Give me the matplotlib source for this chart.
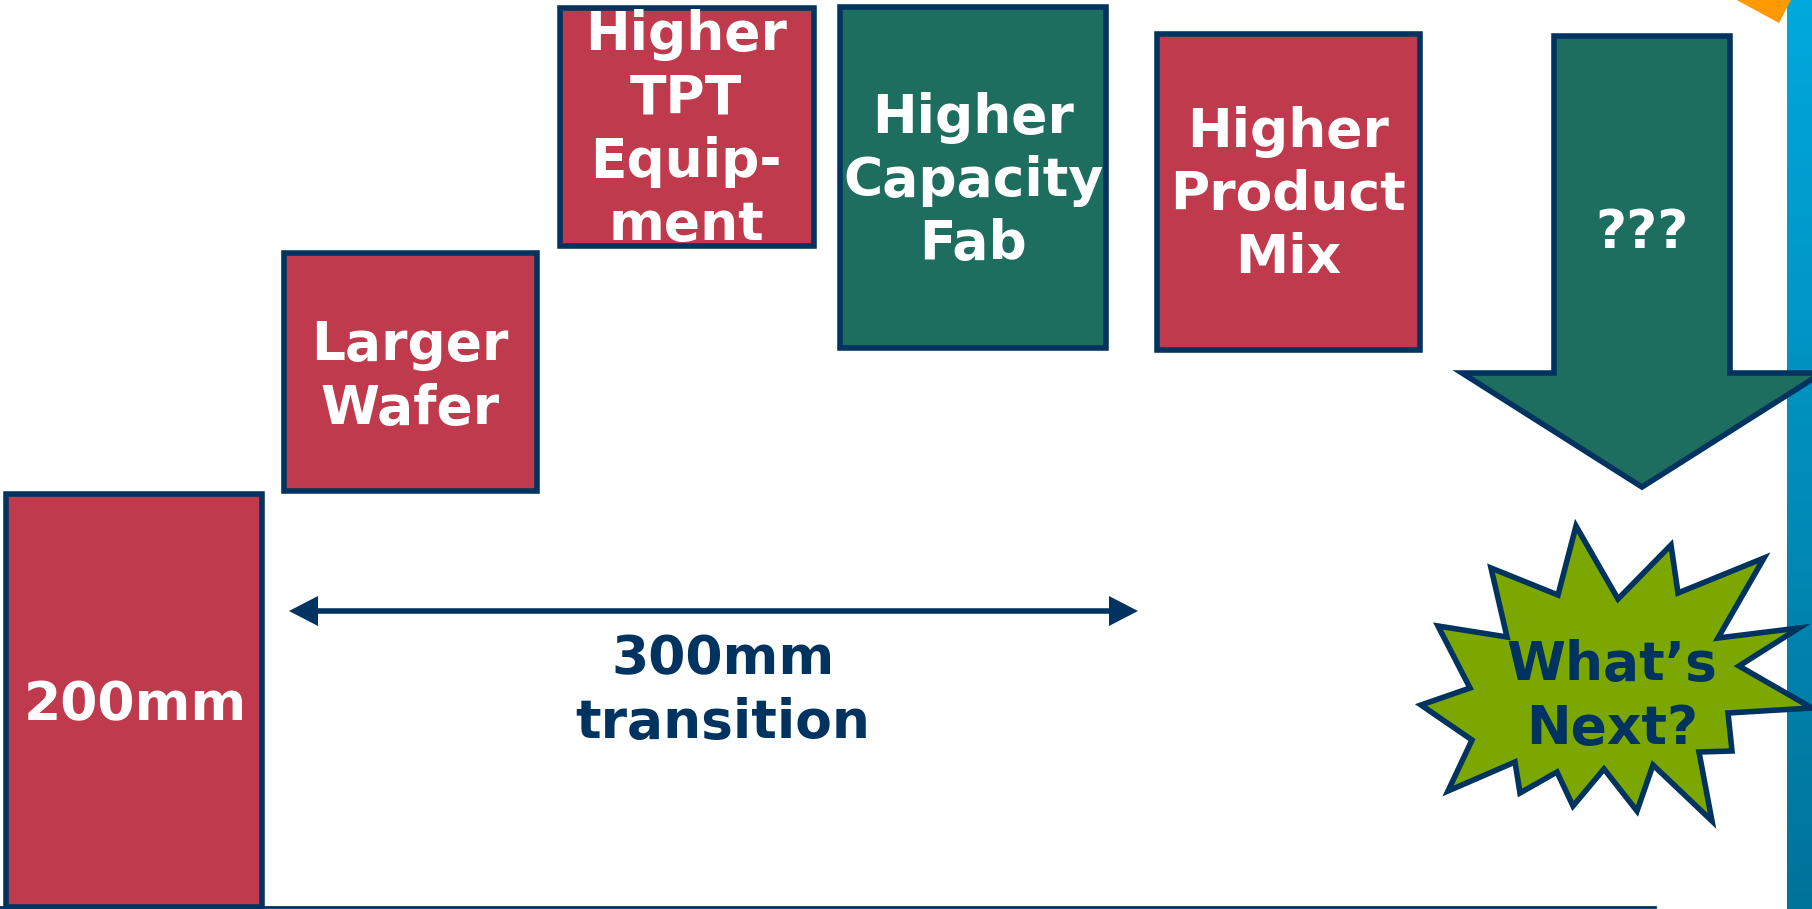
import numpy as np
import matplotlib
matplotlib.use("Agg")
import matplotlib.pyplot as plt
from matplotlib.patches import Rectangle, Polygon
from matplotlib.colors import LinearSegmentedColormap

# Labels for each stage of the wafer-cost roadmap
stage_labels = ["200mm", "Larger\nWafer", "Higher\nTPT\nEquip-\nment",
                "Higher\nCapacity\nFab", "Higher\nProduct\nMix"]
stage_kinds = ["red", "red", "red", "green", "red"]
transition_label = "300mm\ntransition"
future_label = "???"
burst_label = "What\u2019s\nNext?"

# Colours
RED = "#BE3A4C"
GREEN = "#1E6E60"
NAVY = "#00335F"
LIME = "#7BA700"
ORANGE = "#FF9900"
FILL = {"red": RED, "green": GREEN}

# Layout in pixel space (x0, y0, x1, y1), y measured from the top
stage_boxes = [(6, 494, 262, 907), (284, 253, 537, 491), (560, 8, 814, 246),
               (840, 7, 1106, 348), (1157, 34, 1420, 350)]
text_centres = [(135, 705), (410, 377), (686, 130), (973, 181), (1288, 195)]

W, H = 1812, 909
fig = plt.figure(figsize=(W / 100, H / 100), dpi=100)
ax = fig.add_axes([0, 0, 1, 1])
ax.set_xlim(0, W)
ax.set_ylim(H, 0)
ax.axis("off")

FONT = dict(family="DejaVu Sans", weight="bold", fontsize=38.5)
LSP = 1.27
LW = 4

# Right-hand gradient bar (sits behind the shapes that overlap it)
grad = LinearSegmentedColormap.from_list("bar", ["#00A9DD", "#00739A"])
ax.imshow(np.linspace(0, 1, 256).reshape(-1, 1), cmap=grad, aspect="auto",
          extent=[1787, W, H, 0], zorder=1)
ax.set_xlim(0, W)
ax.set_ylim(H, 0)

# Orange corner accent
ax.add_patch(Polygon([(1733, -2), (1792, -2), (1779, 23)], closed=True,
                     facecolor=ORANGE, edgecolor="none", zorder=1.5))

# Stage boxes
for (x0, y0, x1, y1), kind, label, (tx, ty) in zip(stage_boxes, stage_kinds,
                                                  stage_labels, text_centres):
    ax.add_patch(Rectangle((x0, y0), x1 - x0, y1 - y0, facecolor=FILL[kind],
                           edgecolor=NAVY, linewidth=LW, zorder=2))
    ax.text(tx, ty, label, color="white", ha="center", va="center",
            linespacing=LSP, zorder=3, **FONT)

# Baseline
ax.plot([0, 1655], [907, 907], color=NAVY, lw=2, zorder=1)

# Double-headed transition arrow
ay, left_tip, right_tip, hl, hw = 611, 289, 1138, 29, 15
ax.plot([left_tip + hl - 2, right_tip - hl + 2], [ay, ay], color=NAVY, lw=4,
        solid_capstyle="butt", zorder=2)
ax.add_patch(Polygon([(left_tip, ay), (left_tip + hl, ay - hw),
                      (left_tip + hl, ay + hw)], closed=True, facecolor=NAVY,
                     edgecolor="none", zorder=2))
ax.add_patch(Polygon([(right_tip, ay), (right_tip - hl, ay - hw),
                      (right_tip - hl, ay + hw)], closed=True, facecolor=NAVY,
                     edgecolor="none", zorder=2))
ax.text(723, 691, transition_label, color=NAVY, ha="center", va="center",
        linespacing=LSP, zorder=3, **FONT)

# Big down arrow
cx = 1642
shaft_l, shaft_r, top, head_y, tip_y, head_half = 1554, 1730, 36, 373, 487, 180
arrow_pts = [(shaft_l, top), (shaft_r, top), (shaft_r, head_y),
             (cx + head_half, head_y), (cx, tip_y), (cx - head_half, head_y),
             (shaft_l, head_y)]
ax.add_patch(Polygon(arrow_pts, closed=True, facecolor=GREEN, edgecolor=NAVY,
                     linewidth=LW, joinstyle="miter", zorder=2))
ax.text(cx, 233, future_label, color="white", ha="center", va="center",
        zorder=3, **FONT)

# Starburst
burst = [(1576, 526), (1618, 599), (1671, 545), (1678, 593), (1764, 558),
         (1718, 638), (1799, 628), (1739, 666), (1812, 708), (1728, 713),
         (1732, 751), (1699, 752), (1712, 821), (1653, 765), (1637, 811),
         (1604, 769), (1573, 806), (1557, 772), (1520, 793), (1515, 762),
         (1448, 791), (1472, 740), (1421, 705), (1470, 688), (1438, 626),
         (1507, 637), (1491, 568), (1558, 595)]
ax.add_patch(Polygon(burst, closed=True, facecolor=LIME, edgecolor=NAVY,
                     linewidth=LW, joinstyle="miter", zorder=2))
ax.text(1612, 697, burst_label, color=NAVY, ha="center", va="center",
        linespacing=LSP, zorder=3, **FONT)

fig.savefig("out.png", dpi=100, facecolor="white")
